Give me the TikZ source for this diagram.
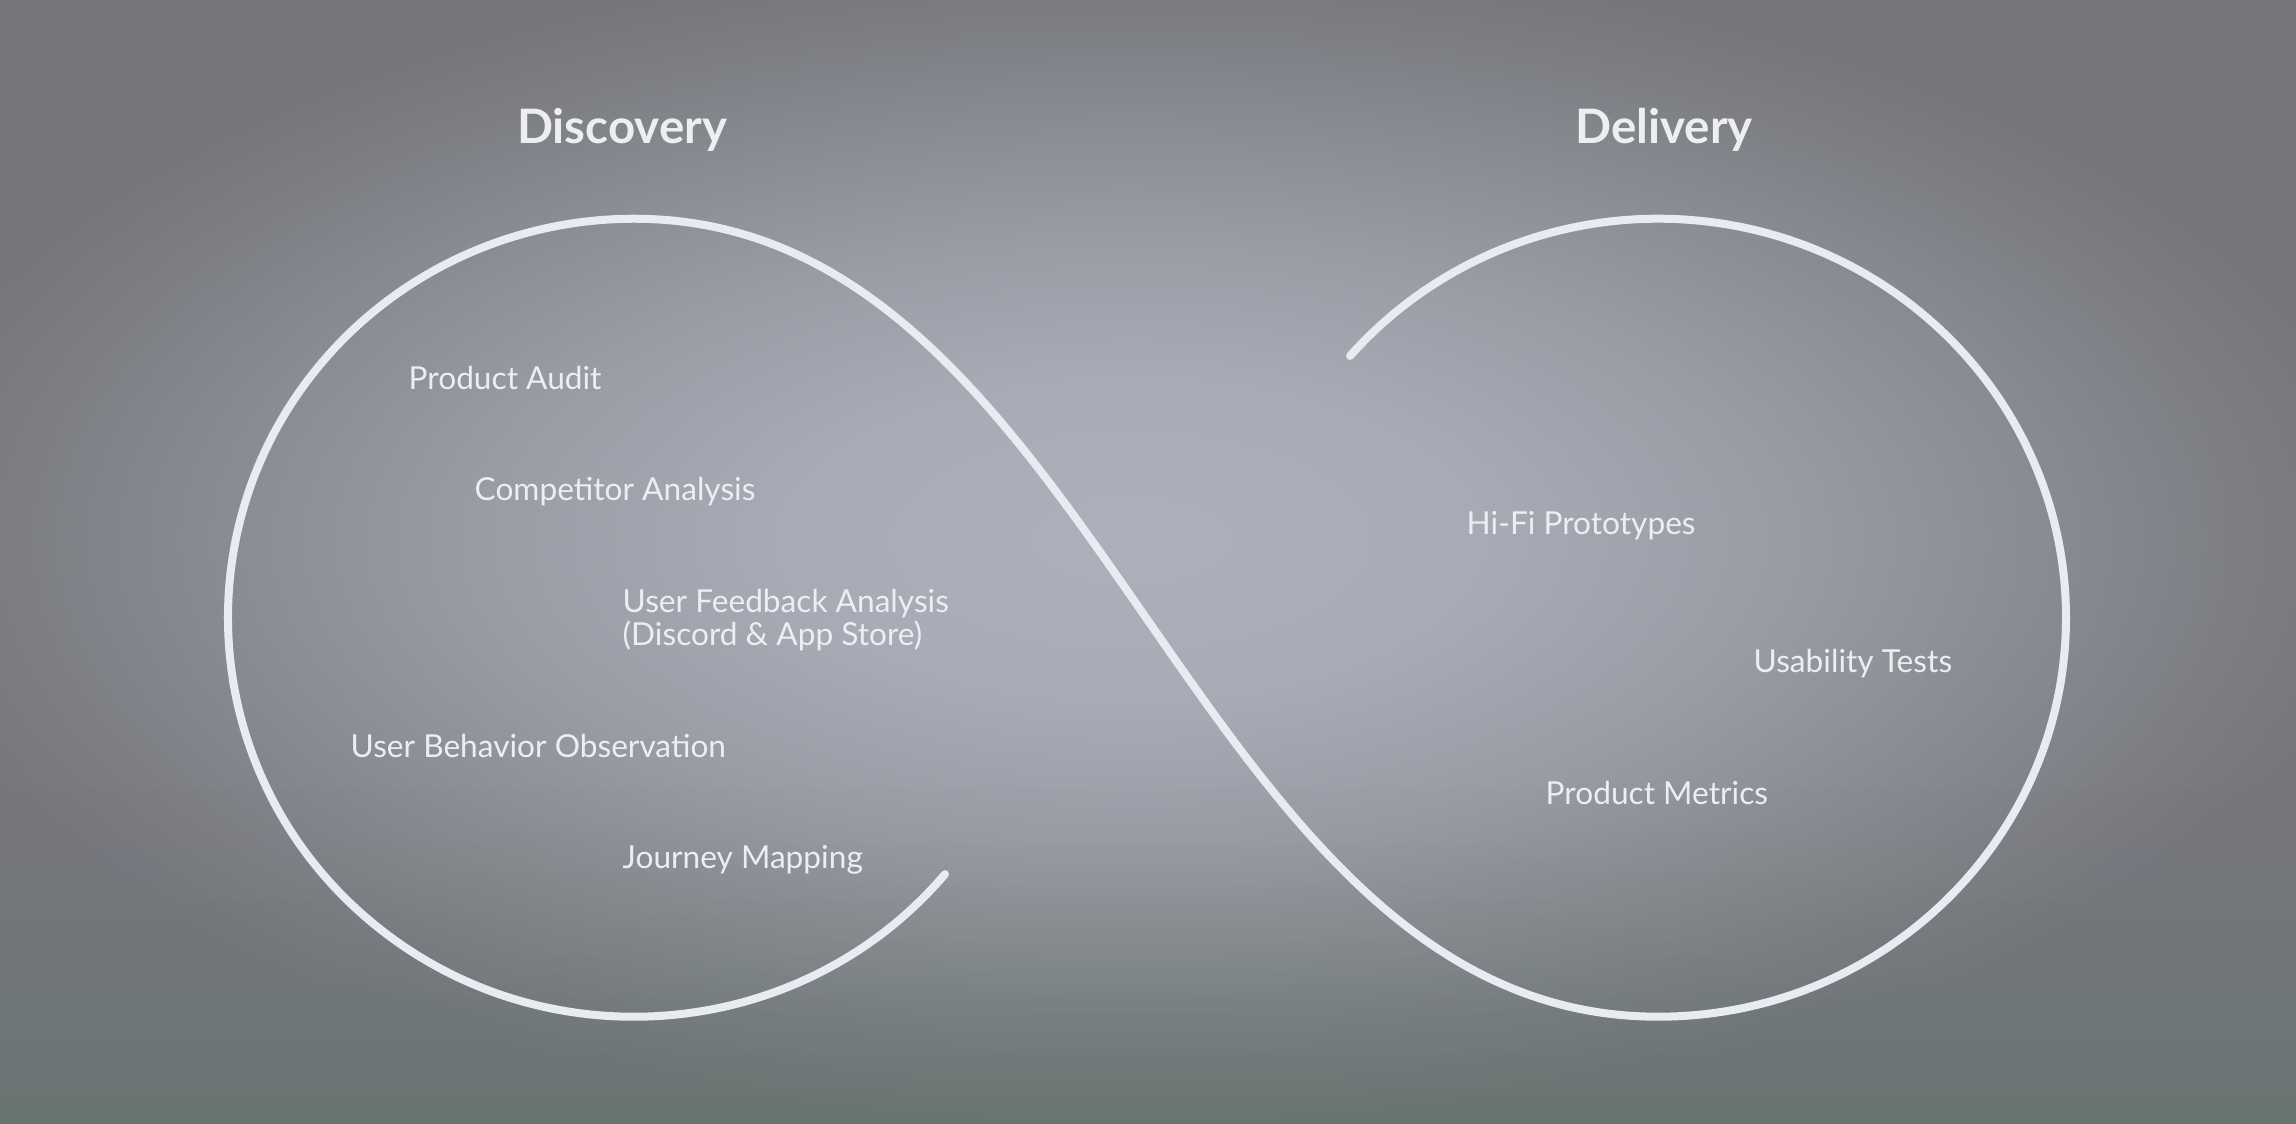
\documentclass[tikz,border=0pt]{standalone}
\usepackage{fontspec}
\setmainfont{Lato}
\definecolor{bgc0}{HTML}{ACB0BB}
\definecolor{bgc1}{HTML}{A7ABB5}
\definecolor{bgc2}{HTML}{999CA5}
\definecolor{bgc3}{HTML}{898C92}
\definecolor{bgc4}{HTML}{7D7F85}
\definecolor{bgc5}{HTML}{75777D}
\definecolor{greentint}{HTML}{5E7468}
\definecolor{loopcol}{HTML}{E8EBF2}
\definecolor{txtcol}{HTML}{ECEEF2}
\pgfdeclareradialshading{bgrad}{\pgfpointorigin}{color(0bp)=(bgc0); color(14bp)=(bgc1); color(26bp)=(bgc2); color(36bp)=(bgc3); color(44bp)=(bgc4); color(50bp)=(bgc5)}
\tikzset{
  loopline/.style={draw=loopcol, line width=0.08cm, line cap=round},
  item/.style={anchor=base west, inner sep=0pt, text=txtcol, font=\fontsize{9}{9.3}\selectfont, align=left},
  phase/.style={anchor=base, inner sep=0pt, text=txtcol, font=\fontsize{13.5}{14}\selectfont\bfseries}
}
\begin{document}
\begin{tikzpicture}[x=0.01cm,y=-0.01cm]
\useasboundingbox (0,0) rectangle (2296,1124);
% background
\fill[bgc5] (0,0) rectangle (2296,1124);
\begin{scope}
  \clip (0,0) rectangle (2296,1124);
  \begin{scope}[transform canvas={shift={(1130,540)}, xscale=7.087, yscale=3.288}]
    \pgftext{\pgfuseshading{bgrad}}
  \end{scope}
\end{scope}
\foreach \i in {1,...,26}{
  \pgfmathsetmacro\tm{(\i-0.5)/26}
  \pgfmathsetmacro\op{0.5*\tm*\tm}
  \fill[greentint, fill opacity=\op] (0,{760+(\i-1)*14}) rectangle (2296,{760+\i*14});
}

% infinity loop
\coordinate (lstart) at (945.0,874.2);
\coordinate (rbottom) at (1658,1016.7);
\draw[loopline] (lstart) arc[start angle=40, end angle=270, x radius=406, y radius=399]
  .. controls +(470,0) and (1188,1016.7) .. (rbottom)
  arc[start angle=90, end angle=-139, x radius=408, y radius=399];

\node[phase] (discovery) at (622,143.5) {Discovery};
\node[phase] (delivery) at (1664,143.5) {Delivery};

\node[item] (audit) at (408,389.5) {Product Audit};
\node[item] (competitor) at (474,500.8) {Competitor Analysis};
\node[item] (feedback) at (622,645) {User Feedback Analysis\\(Discord \& App Store)};
\node[item] (behavior) at (350,757) {User Behavior Observation};
\node[item] (journey) at (622,868) {Journey Mapping};

\node[item] (hifi) at (1466,534.5) {Hi-Fi Prototypes};
\node[item] (usability) at (1753,672) {Usability Tests};
\node[item] (metrics) at (1545,804) {Product Metrics};
\end{tikzpicture}
\end{document}
